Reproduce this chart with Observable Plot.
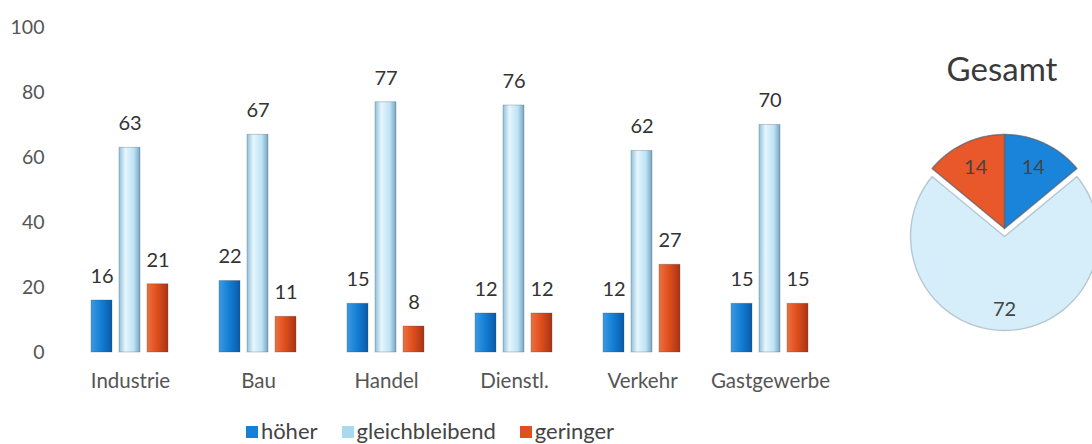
<!DOCTYPE html>
<html>
<head>
<meta charset="utf-8">
<script src="https://cdn.jsdelivr.net/npm/d3@7"></script>
<script src="https://cdn.jsdelivr.net/npm/@observablehq/plot@0.6"></script>
<style>
  html, body { margin: 0; padding: 0; background: #fff; overflow: hidden; }
  body { width: 1092px; height: 444px; position: relative; font-family: Lato, "Open Sans", sans-serif; }
  #bars { position: absolute; left: 0; top: 0; width: 870px; }
  #pie { position: absolute; left: 884px; top: 108px; width: 240px; height: 240px; }
  #pie svg { max-width: none !important; }
  #title { position: absolute; left: 902px; width: 200px; top: 48px; text-align: center; font-size: 33px; color: #3a3a3a; line-height: 40px; }
  #legend { position: absolute; left: 0; width: 860px; top: 418px; display: flex; justify-content: center; gap: 24px; font-size: 22px; color: #444; line-height: 26px; }
  #legend span.sw { display: inline-block; width: 12px; height: 12px; margin-right: 3px; vertical-align: 1px; }
</style>
</head>
<body>
<svg width="0" height="0" style="position:absolute">
  <defs>
    <linearGradient id="g-hoeher" x1="0" x2="1" y1="0" y2="0">
      <stop offset="0" stop-color="#3a9be6"/>
      <stop offset="0.45" stop-color="#1480d6"/>
      <stop offset="1" stop-color="#0a5aa5"/>
    </linearGradient>
    <linearGradient id="g-gleich" x1="0" x2="1" y1="0" y2="0">
      <stop offset="0" stop-color="#8fc0dc"/>
      <stop offset="0.3" stop-color="#e6f6fd"/>
      <stop offset="0.7" stop-color="#bfe3f5"/>
      <stop offset="1" stop-color="#74a6c4"/>
    </linearGradient>
    <linearGradient id="g-geringer" x1="0" x2="1" y1="0" y2="0">
      <stop offset="0" stop-color="#f0703f"/>
      <stop offset="0.45" stop-color="#e0501f"/>
      <stop offset="1" stop-color="#a83312"/>
    </linearGradient>
  </defs>
</svg>
<div id="bars"></div>
<div id="title">Gesamt</div>
<div id="pie"></div>
<div id="legend"></div>
<script>
const categories = ["Industrie", "Bau", "Handel", "Dienstl.", "Verkehr", "Gastgewerbe"];
const series = ["höher", "gleichbleibend", "geringer"];
const hoeher = [16, 22, 15, 12, 12, 15];
const gleichbleibend = [63, 67, 77, 76, 62, 70];
const geringer = [21, 11, 8, 12, 27, 15];
const gesamt = [14, 72, 14]; // höher, gleichbleibend, geringer
const yTicks = [0, 20, 40, 60, 80, 100];

const fills = ["url(#g-hoeher)", "url(#g-gleich)", "url(#g-geringer)"];
const flatColors = ["#1480d6", "#a9d8ef", "#e0501f"];
const pieColors = ["#1a84da", "#d6eefa", "#e8582a"];

const rows = [];
categories.forEach((c, i) => {
  [hoeher, gleichbleibend, geringer].forEach((arr, j) => {
    rows.push({cat: c, series: series[j], value: arr[i]});
  });
});

const bars = Plot.plot({
  width: 870,
  height: 400,
  marginLeft: 66,
  marginRight: 36,
  marginTop: 27,
  marginBottom: 48,
  style: {fontFamily: "Lato, 'Open Sans', sans-serif", fontSize: "19px", color: "#555", background: "transparent", overflow: "visible"},
  fx: {domain: categories, padding: 0, label: null},
  x: {domain: series, paddingInner: 0.24, paddingOuter: 0.83, axis: null},
  y: {domain: [0, 100], label: null},
  color: {domain: series, range: fills},
  marks: [
    Plot.axisFx({anchor: "bottom", tickSize: 0, tickPadding: 21, fontSize: 20.5, label: null}),
    Plot.axisY({anchor: "left", ticks: yTicks, tickSize: 0, tickPadding: 22, fontSize: 19.5, label: null}),
    Plot.barY(rows, {fx: "cat", x: "series", y: "value", fill: "series", stroke: "#3a4a5a", strokeOpacity: 0.35, strokeWidth: 0.8}),
    Plot.text(rows, {fx: "cat", x: "series", y: "value", text: d => String(d.value), dy: -24, fill: "#333", fontSize: 20})
  ]
});
document.getElementById("bars").appendChild(bars);

// Pie
const R = 94;
const explode = [0, 8, 0];
const pieArcs = d3.pie().sort(null).value(d => d)(gesamt);
const pieRows = [];
const labelRows = [];
pieArcs.forEach((a, i) => {
  const mid = (a.startAngle + a.endAngle) / 2;
  const ox = Math.sin(mid) * explode[i];
  const oy = Math.cos(mid) * explode[i];
  pieRows.push({slice: series[i], px: ox, py: oy});
  const n = 80;
  for (let k = 0; k <= n; k++) {
    const t = a.startAngle + (a.endAngle - a.startAngle) * k / n;
    pieRows.push({slice: series[i], px: ox + Math.sin(t) * R, py: oy + Math.cos(t) * R});
  }
  pieRows.push({slice: series[i], px: ox, py: oy});
  const lr = i === 1 ? 0.78 * R : 0.72 * R;
  labelRows.push({slice: series[i], value: a.data, px: ox + Math.sin(mid) * lr, py: oy + Math.cos(mid) * lr});
});

const pie = Plot.plot({
  width: 240,
  height: 240,
  margin: 0,
  x: {domain: [-120, 120], axis: null},
  y: {domain: [-120, 120], axis: null},
  color: {domain: series, range: pieColors},
  style: {fontFamily: "Lato, 'Open Sans', sans-serif", background: "transparent", overflow: "visible", maxWidth: "none"},
  marks: [
    Plot.line(pieRows, {x: "px", y: "py", z: "slice", fill: "slice", stroke: d => d.slice === "gleichbleibend" ? "#9fb3c0" : "#55606a", strokeWidth: 1.4, strokeOpacity: 0.7, curve: "linear"}),
    Plot.text(labelRows, {x: "px", y: "py", text: d => String(d.value), fontSize: 20, fill: "#444"})
  ]
});
document.getElementById("pie").appendChild(pie);

// Legend
const legend = document.getElementById("legend");
series.forEach((s, i) => {
  const item = document.createElement("div");
  const sw = document.createElement("span");
  sw.className = "sw";
  sw.style.background = flatColors[i];
  item.appendChild(sw);
  item.appendChild(document.createTextNode(s));
  legend.appendChild(item);
});
</script>
</body>
</html>
